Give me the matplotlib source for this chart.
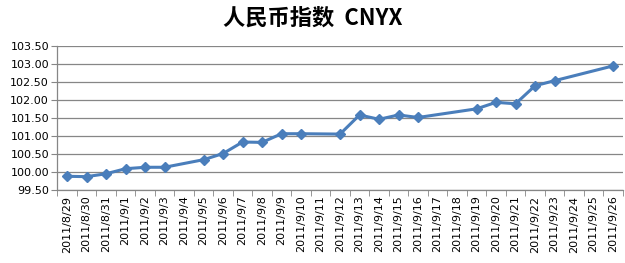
import numpy as np
import matplotlib
matplotlib.use("Agg")
from matplotlib import pyplot as plt
from matplotlib.ticker import FixedLocator, FormatStrFormatter

plt.rcParams['font.family'] = ['Noto Sans CJK SC', 'DejaVu Sans']

# category axis: every day from 8/29 to 9/26
days = ['2011/8/%d' % d for d in range(29, 32)] + ['2011/9/%d' % d for d in range(1, 27)]

# trading days with a value
dates = ['2011/8/29', '2011/8/30', '2011/8/31', '2011/9/1', '2011/9/2', '2011/9/3',
         '2011/9/5', '2011/9/6', '2011/9/7', '2011/9/8', '2011/9/9', '2011/9/10',
         '2011/9/12', '2011/9/13', '2011/9/14', '2011/9/15', '2011/9/16',
         '2011/9/19', '2011/9/20', '2011/9/21', '2011/9/22', '2011/9/23', '2011/9/26']
values = [99.88, 99.87, 99.95, 100.09, 100.13, 100.13,
          100.34, 100.51, 100.83, 100.82, 101.06, 101.06,
          101.05, 101.58, 101.46, 101.58, 101.51,
          101.75, 101.93, 101.89, 102.39, 102.53, 102.94]

idx = [days.index(d) for d in dates]

fig = plt.figure(figsize=(6.25, 2.63), dpi=100)
W, H = 625.0, 263.0
ax = fig.add_axes([57.3/W, 1-190/H, (622.8-57.3)/W, (190-45.7)/H])

ax.plot(idx, values, '-', color='#4a7ebb', linewidth=2.2,
        marker='D', markersize=5.5, markerfacecolor='#4a7ebb', markeredgecolor='#4a7ebb')

ax.set_xlim(-0.5, len(days)-0.5)
ax.set_ylim(99.5, 103.5)
ax.set_yticks(np.arange(99.5, 103.51, 0.5))
ax.yaxis.set_major_formatter(FormatStrFormatter('%.2f'))
ax.grid(axis='y', color='#868686', linewidth=0.9)
ax.set_axisbelow(True)

ax.set_xticks(range(len(days)))
ax.set_xticklabels(days, rotation=90, fontsize=8, family='DejaVu Sans')
ax.tick_params(axis='x', which='major', length=0, pad=4)
ax.xaxis.set_minor_locator(FixedLocator(np.arange(-0.5, len(days), 1.0)))
ax.tick_params(axis='x', which='minor', length=4, color='#868686', direction='out')
ax.tick_params(axis='y', length=4, color='#868686', labelsize=8, pad=2)
for lab in ax.get_yticklabels():
    lab.set_family('DejaVu Sans')

for s in ['top', 'right']:
    ax.spines[s].set_visible(False)
for s in ['left', 'bottom']:
    ax.spines[s].set_color('#868686')
    ax.spines[s].set_linewidth(0.9)

fig.text(0.5, 1-18/H, '人民币指数  CNYX', ha='center', va='center',
         fontsize=16, fontweight='bold')

fig.savefig('out.png', dpi=100)
